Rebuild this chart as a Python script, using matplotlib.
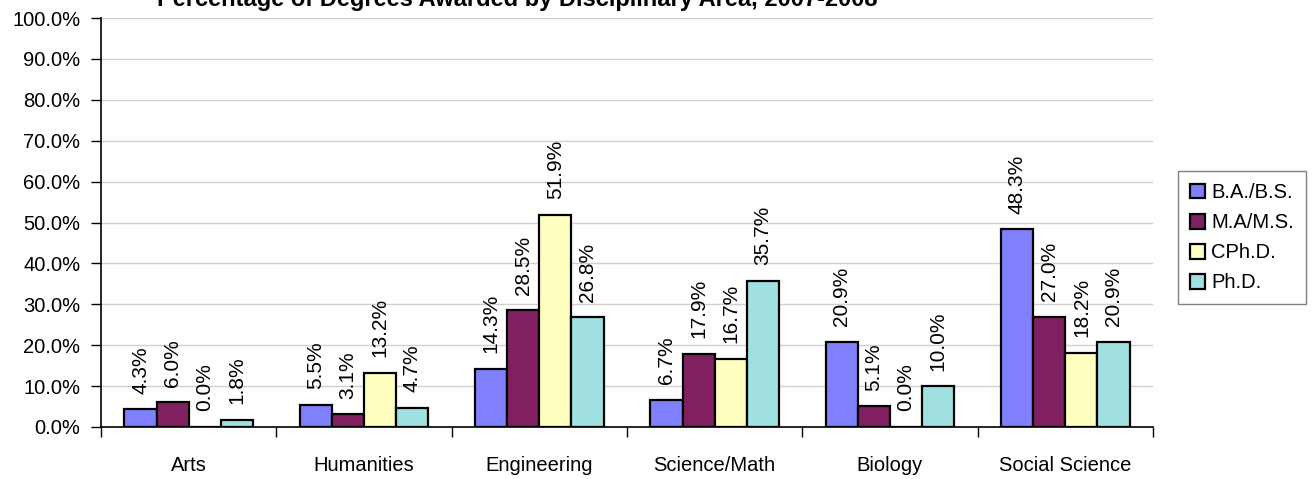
import numpy as np
import matplotlib
matplotlib.use('Agg')
import matplotlib.pyplot as plt

# chart data
categories = ['Arts', 'Humanities', 'Engineering', 'Science/Math', 'Biology', 'Social Science']
series_names = ['B.A./B.S.', 'M.A/M.S.', 'CPh.D.', 'Ph.D.']
ba = [4.3, 5.5, 14.3, 6.7, 20.9, 48.3]
ma = [6.0, 3.1, 28.5, 17.9, 5.1, 27.0]
cphd = [0.0, 13.2, 51.9, 16.7, 0.0, 18.2]
phd = [1.8, 4.7, 26.8, 35.7, 10.0, 20.9]
colors = ['#8080FF', '#802060', '#FFFFC0', '#A0E0E0']
title = 'Percentage of Degrees Awarded by Disciplinary Area, 2007-2008'

plt.rcParams['font.family'] = ['Liberation Sans', 'DejaVu Sans']

fig = plt.figure(figsize=(13.14, 4.79), dpi=100)
ax = fig.add_axes([101 / 1314, 1 - 427 / 479, 1052 / 1314, 409 / 479])

x = np.arange(len(categories))
w = 0.183
all_series = [ba, ma, cphd, phd]
for i, vals in enumerate(all_series):
    pos = x + (i - 1.5) * w
    bars = ax.bar(pos, vals, width=w, color=colors[i], edgecolor='black', linewidth=1.6,
                  label=series_names[i], zorder=3)
    for b, v in zip(bars, vals):
        ax.text(b.get_x() + b.get_width() / 2, v + 3.8, f'{v:.1f}%', rotation=90,
                ha='center', va='bottom', fontsize=15)

ax.set_xlim(-0.5, len(categories) - 0.5)
ax.set_ylim(0, 100)
ax.set_yticks(np.arange(0, 101, 10))
ax.set_yticklabels([f'{t:.1f}%' for t in np.arange(0, 101, 10)], fontsize=14.5)
ax.set_xticks(np.arange(-0.5, len(categories), 1.0))
ax.set_xticklabels([])
ax.set_xticks(x, minor=True)
ax.set_xticklabels(categories, minor=True, fontsize=14.5)
ax.tick_params(axis='x', which='minor', length=0, pad=21)
ax.tick_params(axis='x', which='major', length=7, width=1, direction='out')
ax.tick_params(axis='y', length=7, width=1, direction='out', pad=8)
ax.grid(axis='y', color='#d0d0d0', linewidth=1, zorder=0)
for s in ['top', 'right']:
    ax.spines[s].set_visible(False)
ax.spines['left'].set_linewidth(1.2)
ax.spines['bottom'].set_linewidth(1.2)

leg = fig.legend(loc='upper left', bbox_to_anchor=(1178 / 1314, 1 - 171 / 479), borderaxespad=0,
                 fontsize=14.5, frameon=True, fancybox=False, edgecolor='#606060', handlelength=0.75,
                 handleheight=0.75, handletextpad=0.3, labelspacing=0.55, borderpad=0.6)
leg.get_frame().set_linewidth(1)

fig.text(517 / 1314, 1 - 6 / 479, title, ha='center', va='baseline', fontsize=17, fontweight='bold')

fig.savefig('out.png', dpi=100)
